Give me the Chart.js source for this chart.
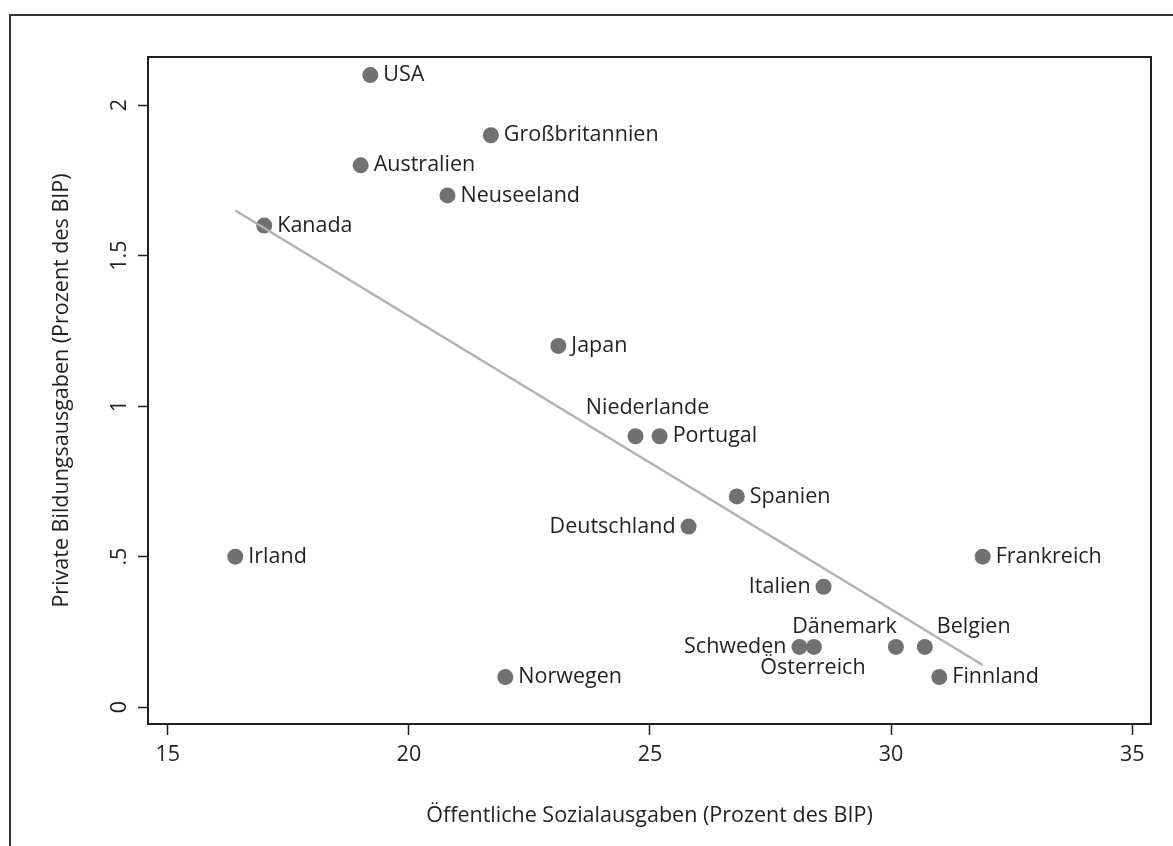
<!DOCTYPE html>
<html lang="de">
<head>
<meta charset="UTF-8">
<title>Sozialausgaben und private Bildungsausgaben</title>
<script src="https://cdn.jsdelivr.net/npm/chart.js"></script>
<style>
  body {
    margin: 0;
    background: #fff;
    overflow: hidden;
  }
  #wrap {
    width: 1173px;
    height: 846px;
    position: relative;
  }
</style>
</head>
<body>
<div id="wrap">
  <canvas id="scatterChart"></canvas>
</div>
<script>
// data
const countries = ['USA', 'Großbritannien', 'Australien', 'Neuseeland', 'Kanada', 'Japan',
  'Niederlande', 'Portugal', 'Spanien', 'Deutschland', 'Irland', 'Frankreich', 'Italien',
  'Schweden', 'Österreich', 'Dänemark', 'Belgien', 'Norwegen', 'Finnland'];
const socialSpending = [19.2, 21.7, 19.0, 20.8, 17.0, 23.1, 24.7, 25.2, 26.8, 25.8, 16.4,
  31.9, 28.6, 28.1, 28.4, 30.1, 30.7, 22.0, 31.0];
const privateEdu = [2.1, 1.9, 1.8, 1.7, 1.6, 1.2, 0.9, 0.9, 0.7, 0.6, 0.5,
  0.5, 0.4, 0.2, 0.2, 0.2, 0.2, 0.1, 0.1];

// fitted line end points
const fitX = [16.4, 31.9];
const fitY = [1.65, 0.14];

const xTicks = [15, 20, 25, 30, 35];
const yTicks = [0, 0.5, 1, 1.5, 2];
const yTickLabels = ['0', '.5', '1', '1.5', '2'];

const FONT = '"Open Sans", "Noto Sans", sans-serif';
const FSIZE = 21.5;
const TEXT = '#231f20';

// where each country's label sits relative to its dot
const labelPlace = {
  'Niederlande': { align: 'center', dx: 12, dy: -28 },
  'Deutschland': { align: 'right', dx: -13, dy: 0 },
  'Italien': { align: 'right', dx: -13, dy: 0 },
  'Schweden': { align: 'right', dx: -13, dy: 0 },
  'Österreich': { align: 'center', dx: -1, dy: 21 },
  'Dänemark': { align: 'right', dx: 1, dy: -20 },
  'Belgien': { align: 'left', dx: 12, dy: -20 }
};

const points = countries.map((c, i) => ({ x: socialSpending[i], y: privateEdu[i], label: c }));
const fitLine = fitX.map((x, i) => ({ x: x, y: fitY[i] }));

const framePlugin = {
  id: 'frame',
  beforeDraw(chart) {
    const ctx = chart.ctx;
    ctx.save();
    ctx.strokeStyle = '#333';
    ctx.lineWidth = 2;
    ctx.beginPath();
    ctx.moveTo(10, chart.height);
    ctx.lineTo(10, 15);
    ctx.lineTo(chart.width, 15);
    ctx.stroke();
    ctx.restore();
  },
  afterDraw(chart) {
    const ctx = chart.ctx;
    const a = chart.chartArea;
    ctx.save();
    ctx.strokeStyle = '#231f20';
    ctx.lineWidth = 2;
    ctx.strokeRect(a.left, a.top, a.right - a.left, a.bottom - a.top);

    // y tick labels, rotated like the original
    const ys = chart.scales.y;
    ctx.fillStyle = TEXT;
    ctx.font = FSIZE + 'px ' + FONT;
    ctx.textAlign = 'center';
    ctx.textBaseline = 'middle';
    ys.ticks.forEach((t, i) => {
      const py = ys.getPixelForValue(t.value);
      ctx.save();
      ctx.translate(120, py);
      ctx.rotate(-Math.PI / 2);
      ctx.fillText(yTickLabels[i], 0, 0);
      ctx.restore();
    });
    ctx.restore();
  }
};

const labelPlugin = {
  id: 'pointLabels',
  afterDatasetsDraw(chart) {
    const ctx = chart.ctx;
    const meta = chart.getDatasetMeta(1);
    ctx.save();
    ctx.font = FSIZE + 'px ' + FONT;
    ctx.fillStyle = TEXT;
    ctx.textBaseline = 'middle';
    meta.data.forEach((el, i) => {
      const name = countries[i];
      const p = labelPlace[name] || { align: 'left', dx: 13, dy: 0 };
      ctx.textAlign = p.align;
      ctx.fillText(name, el.x + p.dx, el.y + p.dy);
    });
    ctx.restore();
  }
};

const ctx = document.getElementById('scatterChart').getContext('2d');
new Chart(ctx, {
  type: 'scatter',
  data: {
    datasets: [{
      type: 'line',
      data: fitLine,
      borderColor: '#b1b1b1',
      borderWidth: 2.5,
      pointRadius: 0,
      fill: false,
      order: 0
    }, {
      data: points,
      backgroundColor: '#717171',
      borderWidth: 0,
      pointRadius: 8,
      pointHoverRadius: 8,
      order: 1
    }]
  },
  options: {
    responsive: true,
    maintainAspectRatio: false,
    animation: false,
    layout: { padding: { left: 0, top: 57, right: 22, bottom: 0 } },
    plugins: {
      legend: { display: false },
      tooltip: { enabled: false }
    },
    scales: {
      x: {
        type: 'linear',
        min: 14.59,
        max: 35.39,
        afterBuildTicks: s => { s.ticks = xTicks.map(v => ({ value: v })); },
        afterFit: s => { s.height = 122; },
        border: { display: false },
        grid: {
          drawOnChartArea: false,
          drawTicks: true,
          tickLength: 11,
          tickColor: '#231f20',
          tickWidth: 1.5
        },
        ticks: {
          color: TEXT,
          font: { family: FONT, size: FSIZE },
          padding: 7,
          maxRotation: 0
        },
        title: {
          display: true,
          text: 'Öffentliche Sozialausgaben (Prozent des BIP)',
          color: TEXT,
          font: { family: FONT, size: FSIZE },
          padding: { bottom: 17 }
        }
      },
      y: {
        type: 'linear',
        min: -0.056,
        max: 2.16,
        afterBuildTicks: s => { s.ticks = yTicks.map(v => ({ value: v })); },
        afterFit: s => { s.width = 148; },
        border: { display: false },
        grid: {
          drawOnChartArea: false,
          drawTicks: true,
          tickLength: 10,
          tickColor: '#231f20',
          tickWidth: 1.5
        },
        ticks: { display: false },
        title: {
          display: true,
          text: 'Private Bildungsausgaben (Prozent des BIP)',
          color: TEXT,
          font: { family: FONT, size: FSIZE },
          padding: { top: 49 }
        }
      }
    }
  },
  plugins: [framePlugin, labelPlugin]
});
</script>
</body>
</html>
